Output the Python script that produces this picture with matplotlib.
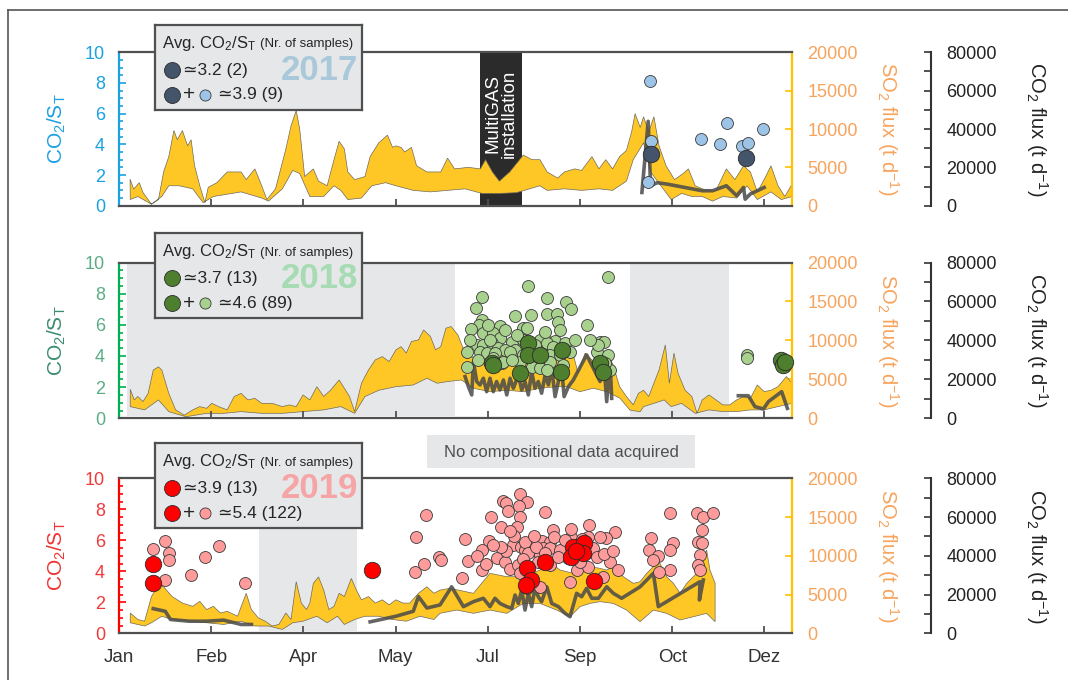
import numpy as np
import matplotlib
matplotlib.use('Agg')
import matplotlib.pyplot as plt
from matplotlib.ticker import MultipleLocator
from matplotlib.lines import Line2D
from matplotlib.patches import Rectangle
import matplotlib.transforms as mtransforms

plt.rcParams['font.family'] = ['Liberation Sans', 'DejaVu Sans']
plt.rcParams['mathtext.default'] = 'regular'

# ---------------- axis ticks ----------------
month_days = [0, 50, 100, 150, 200, 250, 300, 350]
month_labels = ['Jan', 'Feb', 'Apr', 'May', 'Jul', 'Sep', 'Oct', 'Dez']

# ---------------- 2017 ----------------
so2_hi_day_2017 = [6, 8, 11, 13, 17.6, 21.4, 24.2, 27, 29.8, 31.6, 34.4, 37.2, 39.1, 41, 43.8, 46.6, 48.4, 53.1, 58.7, 66.2,
                   69, 73.7, 77.4, 80.2, 84.9, 90.5, 93.3, 96.1, 98, 100.7, 105.4, 108.2, 112.9, 116.6, 119.4, 122.2, 124.1,
                   127.8, 133.4, 136.2, 140.9, 145.6, 148.4, 150.2, 153, 154.9, 158.6, 161.4, 167, 174.5, 178.2, 182, 189.4,
                   196, 198.8, 202.5, 206.3, 211.9, 219.3, 224, 228.3, 232.2, 237.9, 241.6, 247.2, 250.9, 256.5, 260.3, 264,
                   267.7, 271.5, 275.2, 278, 279.9, 282.7, 284.5, 287.3, 290.1, 292.9, 296.7, 301.3, 306, 308.8, 312.5, 318.2,
                   323.8, 329.4, 334, 338.7, 342.4, 346.2, 349.9, 353.6, 357.4, 361.1, 365]
so2_hi_2017 = [3460, 2160, 3000, 1720, 200, 800, 4400, 6400, 9800, 8600, 9800, 7800, 8600, 5200, 2600, 400, 2400, 3000, 4400, 4400,
               3400, 4800, 2600, 800, 2200, 7400, 10400, 12400, 10000, 3800, 4800, 3200, 2600, 6000, 8400, 7400, 4400,
               3400, 3800, 6400, 8200, 9200, 7600, 7800, 7600, 7000, 7600, 5200, 4400, 4400, 6200, 4800, 5000,
               4800, 6000, 4400, 3200, 4400, 6600, 6000, 6000, 4400, 3600, 4400, 4800, 4600, 6400, 4800, 6000,
               4800, 6400, 7200, 9600, 12000, 10200, 11600, 9600, 11600, 7800, 5200, 3400, 4200, 4800, 2600, 2000,
               2000, 4800, 3400, 5200, 4400, 1800, 3400, 5200, 2600, 1200, 2800]
so2_lo_day_2017 = [6.1, 10.2, 17.6, 23.2, 27, 32.6, 40, 45.6, 51.2, 66.2, 77.4, 81.1, 88.6, 94.2, 98, 103.5, 111, 116.6, 120.3,
                   124.1, 131.5, 137.1, 144.6, 150.2, 159.6, 168.9, 178.2, 187.6, 196.9, 206.3, 215.6, 228.3, 232.2, 241.6,
                   250.9, 260.3, 267.7, 275.2, 278.9, 284.5, 288.3, 293.9, 299.5, 305.1, 310.7, 316.3, 321.9, 327.5, 335,
                   340.6, 346.2, 353.6, 359.2, 365]
so2_lo_2017 = [800, 1200, 200, 1200, 2600, 2600, 2200, 400, 1200, 1800, 1000, 600, 2200, 4600, 4200, 1200, 1200, 2600, 2000,
               800, 1000, 2600, 3000, 2600, 2000, 1800, 2000, 2200, 1600, 1600, 1700, 2600, 2000, 2200,
               2000, 2200, 2000, 3200, 6000, 8200, 4400, 2600, 800, 1600, 1200, 1200, 600, 1200, 1000,
               2600, 800, 1800, 800, 1200]
co2_day_2017 = [283.6, 287, 288.3, 292, 297.6, 316.3, 321.9, 329.4, 335, 338.7, 339.6, 342.4, 349.9]
co2_2017 = [6900, 44000, 10400, 12000, 11200, 7800, 7800, 10400, 5200, 9500, 3400, 6100, 9500]
light_day_2017 = [287.9, 288.6, 286.8, 315.7, 326, 329.7, 337.8, 340.9, 349.5]
light_ratio_2017 = [8.16, 4.21, 1.56, 4.36, 4.04, 5.40, 3.89, 4.06, 5.03]
dark_day_2017 = [288.3, 340.0]
dark_ratio_2017 = [3.35, 3.09]
nodata_2017 = []
multigas_2017 = (196.0, 218.4)

# ---------------- 2018 ----------------
so2_hi_day_2018 = [6.1, 8.3, 10.2, 13, 15.8, 18.6, 21.4, 23.2, 27, 30.7, 35.4, 40, 43.8, 47.5, 50.3, 54, 58.7, 62.5, 66.2,
                   69.9, 73.7, 77.4, 83, 88.6, 92.3, 96.1, 99.8, 103.5, 107.3, 111, 114.7, 119.4, 122.2, 125, 127.8, 131.5,
                   135.3, 139, 142.8, 146.5, 150.2, 153, 155.8, 158.6, 162.4, 165.2, 168.9, 171.7, 174.5, 177.3, 180.1,
                   183.8, 186.6, 192.2, 201.2, 210.3, 219.3, 223, 228.3, 230.4, 234.1, 237.8, 241.6, 245.3, 249, 252.8,
                   256.5, 260.3, 264, 267.7, 271.5, 275.2, 278.9, 281.7, 284.5, 287.3, 290.1, 292.9, 296.3, 298.5, 301,
                   303.2, 307, 310.7, 313.5, 316.3, 320, 323.8, 327.5, 331.2, 335, 338.7, 342.4, 346.2, 349.9, 353.6,
                   357.4, 362, 365]
so2_hi_2018 = [3720, 2360, 2800, 2140, 3200, 6200, 6600, 6200, 3200, 1080, 400, 1080, 1500, 1280, 1920, 1500, 1080, 2800, 3200,
               2360, 2560, 1920, 1920, 1500, 1720, 1500, 3000, 2360, 4060, 2800, 3600, 4920, 3860, 2800, 860, 4500,
               6200, 7500, 7920, 7280, 8780, 9200, 8360, 9860, 10060, 11340, 10500, 8780, 9200, 11560, 11780,
               10700, 9000, 7720, 8000, 8200, 8000, 6200, 8400, 7920, 10500, 9640, 8780, 9200, 5780, 8360,
               7500, 6200, 7920, 7060, 4060, 2800, 1720, 3200, 3600, 2800, 4500, 6200, 9420, 4500, 8360,
               5780, 3600, 2800, 640, 2360, 3000, 2360, 1720, 1720, 2360, 2800, 2560, 4280, 3420, 3600,
               4060, 5360, 4500]
so2_lo_day_2018 = [6.1, 13.9, 21.4, 27, 36.3, 47.5, 56.8, 66.2, 77.4, 88.6, 99.8, 111, 120.3, 127.8, 133.4, 140.9, 150.2,
                   159.6, 167, 172.6, 178.2, 185.7, 192.2, 201.2, 210.3, 219.3, 228.3, 237.4, 242.8, 250, 257.3, 264.5,
                   271.7, 277.1, 282.6, 284.5, 290.1, 295.7, 299.5, 305.1, 312.5, 320, 327.5, 335, 342.4, 349.9, 357.4, 365]
so2_lo_2018 = [1500, 1080, 2360, 860, 200, 640, 640, 860, 640, 640, 860, 1080, 1500, 640, 2800, 3600, 4060,
               4280, 5140, 4500, 4720, 4920, 3860, 3420, 3600, 3420, 3860, 4060, 4060, 3420, 3860, 3420,
               2580, 1060, 840, 1500, 1920, 2360, 1500, 1920, 640, 1080, 860, 860, 1080, 1080, 1500, 1920]
co2_day_2018 = [187.7, 189.5, 191.3, 192.2, 194, 195.8, 197.6, 199.4, 201.2, 203, 204.8, 206.6, 208.5, 210.3, 212.1,
                213.9, 216.6, 218.4, 220.2, 222, 223.8, 225.6, 227.4, 229.2, 231.1, 232.9, 234.7, 236.5, 238.3, 239.5,
                241.4, 243.7, 246.4, 253.6, 260.9, 262.7, 264.5, 266.3, 267.2, np.nan,
                335.9, 341.3, 344.9, 349.5, 352.2, 359.4, 362.5]
co2_2018 = [21440, 16240, 12000, 29120, 18880, 17120, 20560, 13680, 20560, 13680, 18880, 14560, 19680, 12000, 20560,
            15440, 22240, 14560, 18880, 12000, 24000, 15440, 18880, 12880, 22240, 17120, 25680, 11120, 18880, 32560,
            11120, 16240, 19680, 32560, 18880, 32560, 8560, 30880, 10240, np.nan,
            11600, 11600, 6000, 4800, 8560, 13680, 5120]
light_day_2018 = [265.4, 221.7, 197.0, 232.0, 242.4, 193.6, 245.0, 214.6, 223.5, 232.3, 237.4, 197.0, 195.2, 238.3, 253.7,
                  190.9, 206.6, 219.3, 221.4, 239.2, 197.6, 203.0, 206.6, 213.0, 219.3, 228.3, 236.5, 241.9, 260.9, 263.2,
                  194.0, 197.6, 202.1, 205.7, 209.4, 214.8, 232.0, 235.5, 188.6, 195.8, 199.4, 203.9, 212.1, 219.3, 224.7,
                  233.8, 244.6, 259.1, 265.4, 233.8, 223.8, 228.3, 232.0, 207.6, 188.6, 266.3, 203.0, 208.4, 260.0, 263.6,
                  340.4, 340.4, 201.2, 209.4, 215.9, 225.6, 200.1, 190.4, 239.2, 247.3, 217.5, 231.0, 213.1, 194.7,
                  255.4, 240.8]
light_ratio_2018 = [9.10, 8.50, 7.78, 7.75, 7.49, 7.11, 7.01, 6.57, 6.64, 6.68, 6.68, 6.32, 6.00, 6.21, 6.00,
                    5.74, 5.95, 5.78, 5.78, 5.67, 5.46, 5.46, 5.14, 4.92, 5.03, 5.03, 4.97, 4.82, 4.88, 4.88,
                    4.71, 4.71, 4.82, 4.50, 4.39, 4.39, 4.82, 4.60, 4.28, 4.28, 4.18, 4.18, 4.28, 4.07, 4.07,
                    4.07, 4.28, 4.28, 4.07, 3.64, 3.32, 3.21, 3.10, 3.53, 3.32, 3.10, 3.86, 3.64, 4.71, 3.53,
                    4.07, 3.86, 5.03, 5.67, 5.35, 4.71, 6.00, 5.03, 4.07, 5.03, 3.62, 5.55, 3.75, 3.75,
                    5.03, 3.43]
dark_day_2018 = [202.1, 203.0, 222.0, 222.0, 228.3, 217.5, 240.1, 239.6, 260.9, 262.3, 359.0, 360.1, 361.0]
dark_ratio_2018 = [3.53, 3.43, 4.82, 4.07, 4.07, 2.89, 4.39, 2.99, 3.53, 2.96, 3.75, 3.43, 3.60]
nodata_2018 = [(4.6, 182.3), (277.0, 331.0)]

# ---------------- 2019 ----------------
so2_hi_day_2019 = [6.1, 10.2, 13.9, 17.6, 21.4, 24.2, 28.8, 34.4, 40, 43.8, 47.5, 51.2, 55, 58.7, 64.3, 69, 71.8, 75.5,
                   79.3, 83, 86.7, 90.5, 93.3, 96.1, 98.9, 101.7, 103.5, 105.4, 108.2, 111, 113.8, 116.6, 119.4, 122.2,
                   126, 128.7, 131.5, 135.3, 139, 142.8, 146.5, 150.2, 154, 157.7, 162.4, 167, 170.8, 174.1, 179.5,
                   192.2, 201.2, 210.3, 219.3, 228.3, 235.6, 239.2, 246.4, 251.8, 255.5, 260.9, 264.5, 268.1, 273.5,
                   279, 282.6, 286.2, 289.8, 293.4, 297, 300.7, 304.3, 307.9, 311.5, 315.1, 318.7, 320.5, 323.3]
so2_hi_2019 = [2620, 1780, 1560, 4740, 6220, 6000, 4740, 3900, 3480, 4120, 3060, 3480, 2620, 2840, 2200, 5160, 3060, 2000,
               1560, 940, 1140, 2620, 1780, 6660, 3900, 3060, 3900, 6440, 7280, 5600, 3060, 3480, 5160, 4740,
               7080, 5600, 4320, 4740, 3900, 4320, 3680, 4320, 3900, 3900, 5160, 6000, 5160, 5580, 5800,
               5160, 7740, 7300, 7300, 8160, 8820, 8160, 7740, 8160, 8600, 8380, 8160, 8600, 7300,
               6440, 6660, 7740, 8600, 9020, 7300, 6440, 5160, 6440, 7300, 8160, 10740, 8160, 6440]
so2_lo_day_2019 = [6.1, 13.9, 17.6, 23.2, 28.8, 38.2, 47.5, 56.8, 66.2, 73.7, 81.1, 88.6, 94.2, 99.8, 107.3, 112.9, 118.5,
                   122.2, 127.8, 133.4, 140.9, 148.4, 155.8, 163.3, 170.8, 174.1, 183.1, 192.2, 201.2, 210.3, 219.3,
                   228.3, 237.4, 244.6, 250, 255.5, 260.9, 268.1, 275.3, 282.6, 289.8, 297, 304.3, 311.5, 318.7, 323.3]
so2_lo_2019 = [1360, 940, 1360, 2200, 1780, 1560, 1360, 1140, 1560, 940, 940, 500, 1360, 1560, 2200, 1360, 2200,
               1140, 1780, 2200, 2200, 1780, 1560, 2200, 1780, 2580, 3000, 2580, 3000, 2580, 3860,
               3860, 3000, 2140, 3440, 3860, 4080, 3860, 3000, 1500, 3000, 2580, 1720, 2140, 2580, 1500]
co2_day_2019 = [18.6, 25.1, 27.9, 38.2, 47.5, 56.8, 66.2, 71.8, np.nan,
                136.2, 150.2, 159.6, 162.4, 167, 174.1, 180.4, 186.8, 192.2, 197.6, 201.2, 203.9, 206.6, 210.3, 213,
                214.8, 216.6, 218.4, 220.2, 222, 223.8, 225.6, 227.4, 229.2, 232, 234.7, 238.3, 241.9, 244.6, 248.2,
                250.9, 253.6, 256.4, 260, 264.5, 268.1, 272.6, 282.6, 289.8, 292.5, 297, 306.1, 315.1, 314.8, 316.9]
co2_2019 = [12720, 11360, 7120, 6240, 6240, 6800, 4560, 4560, np.nan,
            5920, 8800, 11360, 18960, 13040, 14640, 24000, 13760, 16320, 18080, 13760, 18080, 15440, 13760, 12880,
            19760, 15440, 22320, 12000, 20640, 13760, 23200, 18880, 16320, 24000, 15440, 13760, 10320, 8560, 20640,
            18880, 23200, 18080, 18080, 24000, 20640, 18080, 24000, 30960, 13760, 16320, 21520, 26640, 17200, 27520]
light_day_2019 = [18.6, 25.1, 27.0, 27.0, 24.7, 46.6, 39.1, 54.0, 68.4, 161.1, 166.5, 160.5, 165.2, 173.6, 174.9,
                  217.5, 208.1, 209.9, 221.5, 211.2, 216.9, 231.2, 201.6, 217.5, 216.0, 207.0, 255.1, 235.2, 269.0,
                  264.0, 245.0, 187.7, 200.9, 213.5, 218.0, 223.8, 229.2, 233.8, 220.2, 225.3, 230.1, 233.8, 228.3,
                  196.7, 204.8, 209.4, 212.1, 216.6, 189.5, 254.6, 253.6, 248.6, 254.6, 242.4, 243.7, 248.2, 254.6,
                  260.9, 266.3, 270.8, 262.7, 244.6, 185.9, 196.7, 217.5, 228.3, 288.4, 287.6, 292.5, 298.8, 300.3,
                  298.8, 298.8, 293.1, 313.7, 316.9, 322.3, 316.0, 314.2, 316.0, 315.1, 314.2, 315.1, 289.8, 221.1,
                  220, 222, 226, 231, 227, 210, 207, 214, 203, 199, 194, 236, 239, 242, 246, 250, 257, 259, 263,
                  268, 234, 238, 225, 212, 219, 245, 251]
light_ratio_2019 = [5.44, 5.97, 5.17, 4.75, 3.47, 4.92, 3.75, 5.66, 3.26, 6.19, 7.61, 3.96, 4.49, 4.92, 4.75,
                    8.99, 8.56, 8.39, 8.49, 7.91, 8.21, 7.85, 7.52, 7.52, 6.83, 6.83, 6.99, 6.66, 6.56,
                    6.17, 6.23, 6.06, 5.98, 5.70, 5.55, 5.98, 5.98, 5.91, 5.37, 5.37, 5.48, 5.48, 5.05,
                    5.37, 4.84, 4.62, 4.13, 4.41, 4.69, 6.23, 5.70, 5.05, 5.27, 5.37, 4.84, 4.08, 4.30,
                    6.23, 4.62, 4.08, 3.65, 3.33, 3.55, 4.08, 3.87, 3.01, 6.13, 5.37, 4.99, 7.78, 5.85,
                    5.37, 4.08, 3.98, 7.74, 7.52, 7.74, 6.66, 5.91, 5.80, 5.05, 4.41, 4.08, 4.73, 2.90,
                    5.9, 5.2, 5.6, 5.2, 4.6, 5.3, 5.6, 6.3, 5.7, 4.5, 5.0, 6.2, 5.4, 6.0, 5.6, 4.6, 5.5, 4.9, 5.1,
                    5.3, 4.4, 4.9, 6.3, 6.6, 4.8, 6.7, 6.1]
dark_day_2019 = [18.6, 18.6, 137.2, 221.5, 231.1, 223.3, 220.7, 246.4, 252.2, 251.8, 245.2, 257.8, 248.0]
dark_ratio_2019 = [4.49, 3.22, 4.11, 4.19, 4.62, 3.44, 3.12, 5.59, 5.85, 5.16, 4.90, 3.40, 5.30]
nodata_2019 = [(75.9, 129.3)]

# legend texts
years = ['2017', '2018', '2019']
avg_dark = ['\u22433.2 (2)', '\u22433.7 (13)', '\u22433.9 (13)']
avg_all = ['\u22433.9 (9)', '\u22434.6 (89)', '\u22435.4 (122)']

# ---------------- styling ----------------
W, H = 1068, 680
fig = plt.figure(figsize=(W / 100, H / 100), dpi=100)
fig.patch.set_facecolor('white')

AX_L, AX_R = 119, 792
panels = [
    dict(top=52.3, bot=205.7, spine='#1BA1E2', tick='#1BA1E2', label='#1BA1E2', year_col='#A9C9DA',
         dark='#44546A', light='#9DC3E6', leg_top=25,
         hi=(so2_hi_day_2017, so2_hi_2017), lo=(so2_lo_day_2017, so2_lo_2017), co2=(co2_day_2017, co2_2017),
         lt=(light_day_2017, light_ratio_2017), dk=(dark_day_2017, dark_ratio_2017), nodata=nodata_2017),
    dict(top=262.5, bot=418.3, spine='#00B050', tick='#5AAE86', label='#3B8C6E', year_col='#A6DBB4',
         dark='#4E7F2E', light='#A9D18E', leg_top=233.3,
         hi=(so2_hi_day_2018, so2_hi_2018), lo=(so2_lo_day_2018, so2_lo_2018), co2=(co2_day_2018, co2_2018),
         lt=(light_day_2018, light_ratio_2018), dk=(dark_day_2018, dark_ratio_2018), nodata=nodata_2018),
    dict(top=478.3, bot=633.3, spine='#FF0000', tick='#F03A3A', label='#EE3333', year_col='#F5A5A5',
         dark='#FF0000', light='#FF9B9B', leg_top=443.3,
         hi=(so2_hi_day_2019, so2_hi_2019), lo=(so2_lo_day_2019, so2_lo_2019), co2=(co2_day_2019, co2_2019),
         lt=(light_day_2019, light_ratio_2019), dk=(dark_day_2019, dark_ratio_2019), nodata=nodata_2019),
]

FRAME = '#505050'
YELLOW = '#FFC726'
SO2_TXT = '#F7A35C'
SO2_SPINE = '#FFC000'

for i, p in enumerate(panels):
    ax = fig.add_axes([AX_L / W, 1 - p['bot'] / H, (AX_R - AX_L) / W, (p['bot'] - p['top']) / H])
    ax_so2 = ax.twinx()
    ax_co2 = ax.twinx()
    ax.set_zorder(3)
    ax_co2.set_zorder(2)
    ax_so2.set_zorder(1)
    ax.patch.set_visible(False)

    ax.set_xlim(0, 365)
    ax.set_ylim(0, 10)
    ax_so2.set_ylim(0, 20000)
    ax_co2.set_ylim(0, 80000)

    # shaded periods without compositional data
    for a, b in p['nodata']:
        ax_so2.axvspan(a, b, ymin=0.015, ymax=1, color='#E6E7E8', lw=0, zorder=0)
    if i == 0:
        ax_so2.axvspan(multigas_2017[0], multigas_2017[1], color='#2B2B2B', lw=0, zorder=0.5)
        tr = mtransforms.blended_transform_factory(ax_so2.transData, ax_so2.transAxes)
        ax_so2.text(sum(multigas_2017) / 2, 0.60, 'MultiGAS\ninstallation', transform=tr, rotation=90,
                    color='white', fontsize=13.5, ha='center', va='center', linespacing=1.0, zorder=3)

    # SO2 flux band
    hd, hv = p['hi']
    ld, lv = p['lo']
    ax_so2.fill(np.r_[hd, ld[::-1]], np.r_[hv, lv[::-1]], facecolor=YELLOW, edgecolor='#6E6A5A',
                lw=0.5, zorder=2)

    # CO2 flux line
    cd, cv = p['co2']
    ax_co2.plot(cd, cv, color='#4A4A4A', lw=2.6, alpha=0.85, zorder=2)

    # CO2/ST ratios
    ax.scatter(p['lt'][0], p['lt'][1], s=74, c=p['light'], edgecolors='#3A3A3A', linewidths=0.6,
               zorder=3, clip_on=False)
    ax.scatter(p['dk'][0], p['dk'][1], s=140, c=p['dark'], edgecolors='#2A2A2A', linewidths=0.6,
               zorder=4, clip_on=False)

    # spines
    ax.spines['right'].set_visible(False)
    ax.spines['left'].set_color(p['spine'])
    ax.spines['left'].set_linewidth(1.6)
    for s in ['top', 'bottom']:
        ax.spines[s].set_color(FRAME)
        ax.spines[s].set_linewidth(1.6)
    for s in ['left', 'top', 'bottom']:
        ax_so2.spines[s].set_visible(False)
        ax_co2.spines[s].set_visible(False)
    ax_so2.spines['right'].set_color(SO2_SPINE)
    ax_so2.spines['right'].set_linewidth(1.6)
    ax_co2.spines['right'].set_position(('axes', (931 - AX_L) / (AX_R - AX_L)))
    ax_co2.spines['right'].set_color('#333333')
    ax_co2.spines['right'].set_linewidth(1.5)

    # ticks
    ax.yaxis.set_major_locator(MultipleLocator(2))
    ax.yaxis.set_minor_locator(MultipleLocator(0.5))
    ax.tick_params(axis='y', which='both', direction='in', color=p['spine'], width=1.2,
                   labelcolor=p['tick'], labelsize=13, pad=10)
    ax.tick_params(axis='y', which='major', length=5)
    ax.tick_params(axis='y', which='minor', length=3)
    ax.set_xticks(month_days)
    ax.tick_params(axis='x', direction='in', length=5, width=1.3, color=FRAME, labelsize=13.5,
                   labelcolor='#333333', pad=11)
    if i == 2:
        ax.set_xticklabels(month_labels)
    else:
        ax.set_xticklabels([])

    ax_so2.set_yticks(range(0, 20001, 5000))
    ax_so2.tick_params(axis='y', direction='in', length=5, width=1.2, color=SO2_SPINE,
                       labelcolor=SO2_TXT, labelsize=13, pad=11)
    ax_co2.yaxis.set_major_locator(MultipleLocator(20000))
    ax_co2.yaxis.set_minor_locator(MultipleLocator(10000))
    ax_co2.tick_params(axis='y', which='both', direction='in', length=5, width=1.2, color='#333333',
                       labelcolor='#222222', labelsize=13, pad=11)

    # labels
    ax.set_ylabel('CO$_2$/S$_T$', color=p['label'], fontsize=15, ha='center', va='center')
    ax.yaxis.set_label_coords(-0.092, 0.5)
    ax_so2.set_ylabel('SO$_2$ flux (t d$^{-1}$)', color=SO2_TXT, fontsize=14.5, rotation=270,
                      ha='center', va='center')
    ax_so2.yaxis.set_label_coords((888 - AX_L) / (AX_R - AX_L), 0.5)
    ax_co2.set_ylabel('CO$_2$ flux (t d$^{-1}$)', color='#222222', fontsize=14.5, rotation=270,
                      ha='center', va='center')
    ax_co2.yaxis.set_label_coords((1037 - AX_L) / (AX_R - AX_L), 0.5)

    # legend box
    lt = p['leg_top']
    lg = fig.add_axes([155 / W, 1 - (lt + 85) / H, 207 / W, 85 / H])
    lg.set_zorder(10)
    lg.set_facecolor('#E6E7E8')
    lg.set_xlim(0, 207)
    lg.set_ylim(85, 0)
    lg.set_xticks([])
    lg.set_yticks([])
    for s in lg.spines.values():
        s.set_color(FRAME)
        s.set_linewidth(1.6)
    lg.text(7, 18.5, 'Avg. CO$_2$/S$_T$', fontsize=12, va='center', ha='left', color='#262626')
    lg.text(105, 19.5, '(Nr. of samples)', fontsize=9.5, va='center', ha='left', color='#262626')
    lg.plot([17], [45], 'o', ms=11.5, mfc=p['dark'], mec='#2A2A2A', mew=0.6)
    lg.text(28, 45, avg_dark[i], fontsize=12.5, va='center', ha='left', color='#262626')
    lg.plot([17], [70], 'o', ms=11.5, mfc=p['dark'], mec='#2A2A2A', mew=0.6)
    lg.text(34, 70, '+', fontsize=15, va='center', ha='center', color='#262626')
    lg.plot([50], [70], 'o', ms=8, mfc=p['light'], mec='#3A3A3A', mew=0.6)
    lg.text(63, 70, avg_all[i], fontsize=12.5, va='center', ha='left', color='#262626')
    lg.text(164, 45, years[i], fontsize=25, fontweight='bold', color=p['year_col'], va='center', ha='center')

# "No compositional data acquired" box
fig.add_artist(Rectangle((427 / W, 1 - 468 / H), (695 - 427) / W, 33 / H, transform=fig.transFigure,
                         facecolor='#E6E7E8', edgecolor='none', zorder=5))
fig.text(561 / W, 1 - 452 / H, 'No compositional data acquired', fontsize=12, color='#505050',
         ha='center', va='center', zorder=6)

# outer frame
fig.add_artist(Line2D([8 / W, 1], [1 - 10 / H, 1 - 10 / H], transform=fig.transFigure, color='#555555', lw=1.2))
fig.add_artist(Line2D([8 / W, 8 / W], [1 - 10 / H, 0], transform=fig.transFigure, color='#555555', lw=1.2))

fig.savefig('out.png', dpi=100)
